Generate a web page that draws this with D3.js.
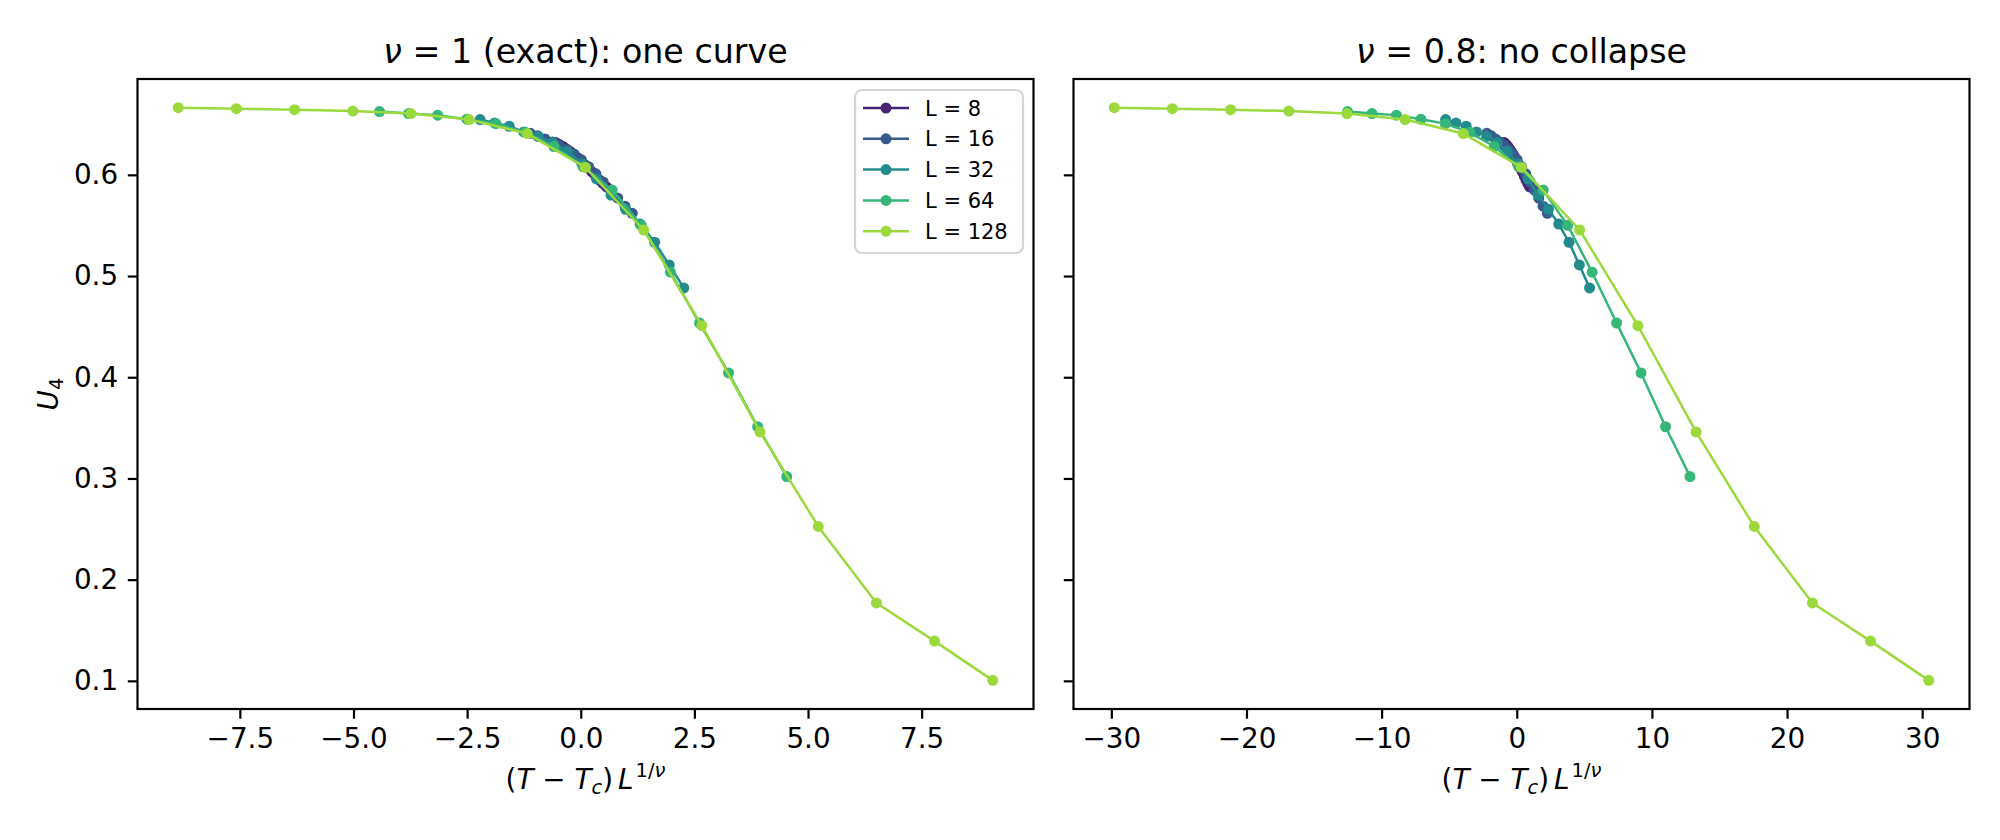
<!DOCTYPE html>
<html><head><meta charset="utf-8">
<script src="https://cdn.jsdelivr.net/npm/d3@7"></script>
<style>
html,body{margin:0;padding:0;background:#fff;}
svg{display:block;font-family:"DejaVu Sans",sans-serif;}
</style></head><body>
<svg id="chart" width="2000" height="840"></svg>
<script>
// ---------------- data ----------------
const temperatures = [2.20, 2.21, 2.22, 2.23, 2.24, 2.25, 2.26, 2.27, 2.28, 2.29, 2.30, 2.31, 2.32, 2.33, 2.34];
const Tc = 2.269185;
const sizes = [8, 16, 32, 64, 128];
const seriesLabels = ["L = 8", "L = 16", "L = 32", "L = 64", "L = 128"];
const u4_L8   = [0.6320, 0.6300, 0.6280, 0.6255, 0.6230, 0.6200, 0.6170, 0.6135, 0.6100, 0.6065, 0.6030, 0.5990, 0.5950, 0.5915, 0.5880];
const u4_L16  = [0.6410, 0.6385, 0.6355, 0.6325, 0.6290, 0.6250, 0.6205, 0.6150, 0.6080, 0.6010, 0.5930, 0.5850, 0.5770, 0.5690, 0.5620];
const u4_L32  = [0.6546, 0.6513, 0.6480, 0.6424, 0.6380, 0.6320, 0.6230, 0.6110, 0.5960, 0.5800, 0.5660, 0.5514, 0.5334, 0.5110, 0.4883];
const u4_L64  = [0.6625, 0.6605, 0.6590, 0.6550, 0.6506, 0.6420, 0.6280, 0.6080, 0.5849, 0.5501, 0.5038, 0.4536, 0.4043, 0.3511, 0.3019];
const u4_L128 = [0.6664, 0.6654, 0.6644, 0.6630, 0.6605, 0.6546, 0.6408, 0.6073, 0.5455, 0.4510, 0.3460, 0.2526, 0.1770, 0.1393, 0.1005];
const u4Series = [u4_L8, u4_L16, u4_L32, u4_L64, u4_L128];
const seriesColors = ["#482475", "#375b8d", "#238b8d", "#35b779", "#9bd93c"];

const panelNus = [1, 0.8];
const panelTitleRest = [" = 1 (exact): one curve", " = 0.8: no collapse"];
const xTicksLeft = [-7.5, -5, -2.5, 0, 2.5, 5, 7.5];
const xTickLabelsLeft = ["\u22127.5", "\u22125.0", "\u22122.5", "0.0", "2.5", "5.0", "7.5"];
const xTicksRight = [-30, -20, -10, 0, 10, 20, 30];
const xTickLabelsRight = ["\u221230", "\u221220", "\u221210", "0", "10", "20", "30"];
const yTicks = [0.1, 0.2, 0.3, 0.4, 0.5, 0.6];
const yTickLabels = ["0.1", "0.2", "0.3", "0.4", "0.5", "0.6"];

// ---------------- layout ----------------
const svg = d3.select("#chart");
const TOP = 79, BOTTOM = 709;
const panelX = [[137.5, 1033.5], [1073.5, 1969.5]];
const FS = 27.8, TITLE_FS = 33.3, LEG_FS = 21;
const TICK = 9.7, PAD = 9.7, SPINE = 2.2;

function pad5(ext) { const r = ext[1] - ext[0]; return [ext[0] - 0.05 * r, ext[1] + 0.05 * r]; }

const allU = u4Series.flat();
const y = d3.scaleLinear().domain(pad5(d3.extent(allU))).range([BOTTOM, TOP]);

panelNus.forEach((nu, pi) => {
  const pts = sizes.map((L, si) => temperatures.map((T, k) => ({
    x: (T - Tc) * Math.pow(L, 1 / nu), y: u4Series[si][k]
  })));
  const xExt = d3.extent(pts.flat(), d => d.x);
  const x = d3.scaleLinear().domain(pad5(xExt)).range(panelX[pi]);
  const g = svg.append("g");

  // clip
  const cid = "clip" + pi;
  svg.append("clipPath").attr("id", cid).append("rect")
    .attr("x", panelX[pi][0]).attr("y", TOP)
    .attr("width", panelX[pi][1] - panelX[pi][0]).attr("height", BOTTOM - TOP);

  const data = g.append("g").attr("clip-path", `url(#${cid})`);
  const line = d3.line().x(d => x(d.x)).y(d => y(d.y));
  pts.forEach((s, si) => {
    const sg = data.append("g");
    sg.append("path").attr("d", line(s)).attr("fill", "none")
      .attr("stroke", seriesColors[si]).attr("stroke-width", 2.5)
      .attr("stroke-linejoin", "round").attr("stroke-linecap", "round");
    sg.selectAll("circle").data(s).join("circle")
      .attr("cx", d => x(d.x)).attr("cy", d => y(d.y)).attr("r", 5.5)
      .attr("fill", seriesColors[si]);
  });

  // axes
  const xt = pi === 0 ? xTicksLeft : xTicksRight;
  const xl = pi === 0 ? xTickLabelsLeft : xTickLabelsRight;
  const xAxis = d3.axisBottom(x).tickValues(xt).tickFormat((d, i) => xl[i])
    .tickSizeInner(TICK).tickSizeOuter(0).tickPadding(PAD);
  const gx = g.append("g").attr("transform", `translate(0,${BOTTOM})`).call(xAxis);
  const yAxis = d3.axisLeft(y).tickValues(yTicks)
    .tickFormat((d, i) => pi === 0 ? yTickLabels[i] : "")
    .tickSizeInner(TICK).tickSizeOuter(0).tickPadding(PAD);
  const gy = g.append("g").attr("transform", `translate(${panelX[pi][0]},0)`).call(yAxis);
  [gx, gy].forEach(a => {
    a.select(".domain").remove();
    a.selectAll(".tick line").attr("stroke", "#000").attr("stroke-width", SPINE);
    a.selectAll(".tick text").attr("fill", "#000").attr("font-size", FS)
      .attr("font-family", "DejaVu Sans");
  });

  // spines
  g.append("rect").attr("x", panelX[pi][0]).attr("y", TOP)
    .attr("width", panelX[pi][1] - panelX[pi][0]).attr("height", BOTTOM - TOP)
    .attr("fill", "none").attr("stroke", "#000").attr("stroke-width", SPINE);

  const cx = (panelX[pi][0] + panelX[pi][1]) / 2;
  // title
  const t = g.append("text").attr("x", cx).attr("y", 62.5).attr("text-anchor", "middle")
    .attr("font-size", TITLE_FS).attr("fill", "#000");
  t.append("tspan").attr("font-style", "italic").text("\u03bd");
  t.append("tspan").text(panelTitleRest[pi]);

  // x label
  const xlab = g.append("text").attr("x", cx).attr("y", 789).attr("text-anchor", "middle")
    .attr("font-size", FS).attr("fill", "#000");
  xlab.append("tspan").text("(");
  xlab.append("tspan").attr("font-style", "italic").text("T");
  xlab.append("tspan").text(" \u2212 ");
  xlab.append("tspan").attr("font-style", "italic").text("T");
  xlab.append("tspan").attr("font-style", "italic").attr("font-size", 19.5).attr("dy", 5).text("c");
  xlab.append("tspan").attr("dy", -5).text(")");
  xlab.append("tspan").attr("font-style", "italic").attr("dx", 5).text("L");
  xlab.append("tspan").attr("font-size", 19.5).attr("dy", -12).attr("dx", 2).text("1/");
  xlab.append("tspan").attr("font-size", 19.5).attr("font-style", "italic").text("\u03bd");

  if (pi === 0) {
    const ylab = g.append("text").attr("transform", `translate(58,${(TOP + BOTTOM) / 2}) rotate(-90)`)
      .attr("text-anchor", "middle").attr("font-size", FS).attr("fill", "#000");
    ylab.append("tspan").attr("font-style", "italic").text("U");
    ylab.append("tspan").attr("font-size", 19.5).attr("dy", 5).text("4");

    // legend
    const lg = g.append("g");
    lg.append("rect").attr("x", 855).attr("y", 90).attr("width", 168).attr("height", 163)
      .attr("rx", 7).attr("ry", 7).attr("fill", "#fff").attr("fill-opacity", 0.8)
      .attr("stroke", "#d6d6d6").attr("stroke-width", 2.2);
    seriesLabels.forEach((lab, si) => {
      const ry = 108 + si * 30.8;
      lg.append("line").attr("x1", 863).attr("x2", 909).attr("y1", ry).attr("y2", ry)
        .attr("stroke", seriesColors[si]).attr("stroke-width", 2.5);
      lg.append("circle").attr("cx", 886).attr("cy", ry).attr("r", 5.5).attr("fill", seriesColors[si]);
      lg.append("text").attr("x", 925).attr("y", ry + 7.6).attr("font-size", LEG_FS)
        .attr("fill", "#000").text(lab);
    });
  }
});
</script>
</body></html>
